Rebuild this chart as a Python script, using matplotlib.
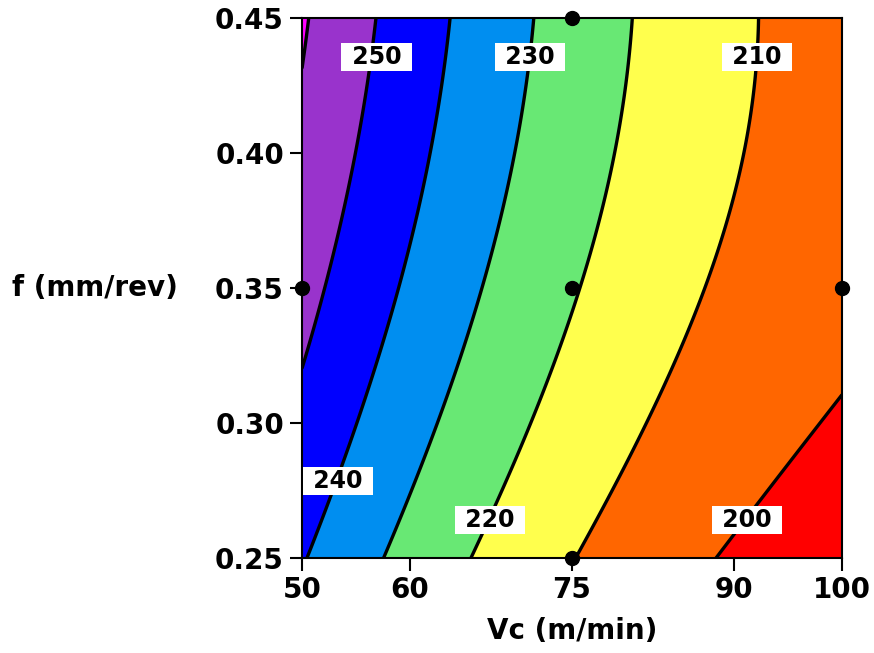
import numpy as np
import matplotlib
matplotlib.use('Agg')
import matplotlib.pyplot as plt

# Contour crossings (Vc, f, level)
vcPts = [50.6, 50.0,
         56.9, 55.7, 54.2, 51.9, 50.0,
         63.8, 62.6, 61.0, 59.1, 55.9, 50.5,
         71.4, 70.5, 69.0, 66.8, 63.2, 57.5,
         80.6, 79.75, 77.9, 75.5, 71.9, 65.7,
         92.4, 91.6, 89.9, 87.5, 83.8, 75.3,
         100.0, 88.4]
fPts = [0.450, 0.430,
        0.450, 0.420, 0.383, 0.350, 0.320,
        0.450, 0.420, 0.383, 0.350, 0.309, 0.250,
        0.450, 0.420, 0.383, 0.350, 0.309, 0.250,
        0.450, 0.420, 0.383, 0.347, 0.309, 0.250,
        0.450, 0.420, 0.383, 0.350, 0.316, 0.250,
        0.311, 0.250]
zPts = [260, 260,
        250, 250, 250, 250, 250,
        240, 240, 240, 240, 240, 240,
        230, 230, 230, 230, 230, 230,
        220, 220, 220, 220, 220, 220,
        210, 210, 210, 210, 210, 210,
        200, 200]

levels = [200, 210, 220, 230, 240, 250, 260]
fillColors = ['#FF0000', '#FF6600', '#FFFF4D', '#68E874', '#008EF0', '#0000FF', '#9933CC', '#FF00FF']
xTicks = [50, 60, 75, 90, 100]
yTicks = [0.25, 0.30, 0.35, 0.40, 0.45]
designVc = [50, 75, 75, 75, 100]
designF = [0.35, 0.45, 0.35, 0.25, 0.35]
labelLevels = [250, 230, 210, 240, 220, 200]
labelSpots = [(56.9, 0.4356), (71.1, 0.4356), (92.1, 0.4356), (53.3, 0.2785), (67.4, 0.264), (91.2, 0.264)]

# cubic response surface fitted to the read crossings (scaled coords)
def basis(v, f):
    v = (np.asarray(v, float) - 75) / 25
    f = (np.asarray(f, float) - 0.35) / 0.1
    return np.stack([np.ones_like(v), v, f, v * v, f * f, v * f,
                     v ** 3, f ** 3, v * v * f, v * f * f], axis=-1)

coef, *_ = np.linalg.lstsq(basis(vcPts, fPts), np.array(zPts, float), rcond=None)

vg, fg = np.meshgrid(np.linspace(50, 100, 300), np.linspace(0.25, 0.45, 300))
zg = basis(vg, fg) @ coef

fig = plt.figure(figsize=(8.74, 6.53), dpi=100)
ax = fig.add_axes([302 / 874, 95 / 653, 540 / 874, 540 / 653])

bounds = [min(zg.min(), 190) - 1] + levels + [max(zg.max(), 270) + 1]
ax.contourf(vg, fg, zg, levels=bounds, colors=fillColors)
cs = ax.contour(vg, fg, zg, levels=levels, colors='black', linewidths=2.4)

# horizontal labels in white boxes
for lev, (lx, ly) in zip(labelLevels, labelSpots):
    ax.text(lx, ly, ' ' + str(lev) + ' ', ha='center', va='center', fontsize=17, fontweight='bold',
            bbox=dict(facecolor='white', edgecolor='none', pad=1.5), zorder=5)

ax.plot(designVc, designF, 'o', color='black', markersize=10, clip_on=False, zorder=6)

ax.set_xlim(50, 100)
ax.set_ylim(0.25, 0.45)
ax.set_xticks(xTicks)
ax.set_yticks(yTicks)
ax.set_xticklabels([str(t) for t in xTicks], fontsize=20, fontweight='bold')
ax.set_yticklabels(['%.2f' % t for t in yTicks], fontsize=20, fontweight='bold')
ax.tick_params(direction='out', length=9, width=1.5, pad=4)
for s in ax.spines.values():
    s.set_linewidth(1.5)

ax.set_xlabel('Vc (m/min)', fontsize=20, fontweight='bold', labelpad=9)
ax.set_ylabel('f (mm/rev)', fontsize=20, fontweight='bold', rotation=0, ha='center', va='center')
ax.yaxis.set_label_coords(-0.383, 0.5)

fig.savefig('out.png', dpi=100)
